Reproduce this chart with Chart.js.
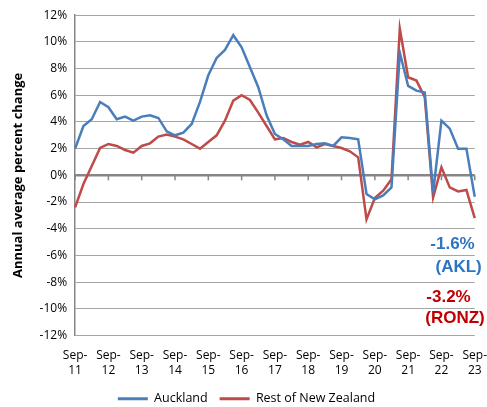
<!DOCTYPE html>
<html>
<head>
<meta charset="utf-8">
<script src="https://cdn.jsdelivr.net/npm/chart.js@4"></script>
<style>
  html, body { margin: 0; padding: 0; background: #fff; }
  #wrap { width: 487px; height: 407px; }
</style>
</head>
<body>
<div id="wrap"><canvas id="grafico"></canvas></div>
<script>
// trimestres Sep-11 .. Sep-23
const trimestres = [
  "Sep-11","Dec-11","Mar-12","Jun-12","Sep-12","Dec-12","Mar-13","Jun-13",
  "Sep-13","Dec-13","Mar-14","Jun-14","Sep-14","Dec-14","Mar-15","Jun-15",
  "Sep-15","Dec-15","Mar-16","Jun-16","Sep-16","Dec-16","Mar-17","Jun-17",
  "Sep-17","Dec-17","Mar-18","Jun-18","Sep-18","Dec-18","Mar-19","Jun-19",
  "Sep-19","Dec-19","Mar-20","Jun-20","Sep-20","Dec-20","Mar-21","Jun-21",
  "Sep-21","Dec-21","Mar-22","Jun-22","Sep-22","Dec-22","Mar-23","Jun-23",
  "Sep-23"
];

const auckland = [
  2.0, 3.7, 4.2, 5.5, 5.1, 4.2, 4.4, 4.1,
  4.4, 4.5, 4.3, 3.3, 3.0, 3.2, 3.85, 5.5,
  7.5, 8.8, 9.4, 10.5, 9.6, 8.1, 6.6, 4.5,
  3.1, 2.7, 2.2, 2.2, 2.2, 2.35, 2.4, 2.2,
  2.85, 2.8, 2.7, -1.4, -1.8, -1.5, -0.9, 9.2,
  6.7, 6.35, 6.2, -1.3, 4.1, 3.5, 2.0, 2.0,
  -1.6
];

const restoNZ = [
  -2.4, -0.65, 0.7, 2.05, 2.35, 2.2, 1.9, 1.7,
  2.2, 2.4, 2.9, 3.05, 2.9, 2.7, 2.35, 2.0,
  2.5, 3.0, 4.1, 5.6, 6.0, 5.65, 4.7, 3.7,
  2.7, 2.8, 2.5, 2.3, 2.5, 2.1, 2.35, 2.2,
  2.05, 1.8, 1.35, -3.3, -1.7, -1.15, -0.3, 11.0,
  7.35, 7.1, 5.85, -1.65, 0.6, -0.9, -1.2, -1.1,
  -3.2
];

const colorAKL = "#4a7ebb";
const colorRONZ = "#be4b48";

// Eje en cero con marcas de año y anotaciones finales
const ejeCero = {
  id: "ejeCero",
  beforeDatasetsDraw(chart) {
    const ctx = chart.ctx;
    const x = chart.scales.x, y = chart.scales.y;
    const y0 = y.getPixelForValue(0);
    ctx.save();
    ctx.strokeStyle = "#868686";
    ctx.lineWidth = 2.5;
    ctx.beginPath();
    ctx.moveTo(chart.chartArea.left, y0);
    ctx.lineTo(chart.chartArea.right, y0);
    ctx.stroke();
    ctx.lineWidth = 1.5;
    for (let i = 0; i < trimestres.length; i += 4) {
      const px = x.getPixelForValue(i);
      ctx.beginPath();
      ctx.moveTo(px, y0);
      ctx.lineTo(px, y0 + 5);
      ctx.stroke();
    }
    ctx.restore();
  },
  afterDraw(chart) {
    const ctx = chart.ctx;
    const r = chart.chartArea.right;
    ctx.save();
    ctx.font = "bold 17px 'Liberation Sans', Arial, sans-serif";
    ctx.textAlign = "right";
    ctx.textBaseline = "alphabetic";
    ctx.fillStyle = "#2e75c0";
    ctx.fillText("-1.6%", r, 249);
    ctx.fillText("(AKL)", r + 7, 272);
    ctx.fillStyle = "#c00000";
    ctx.fillText("-3.2%", r - 4, 302);
    ctx.fillText("(RONZ)", r + 10, 323);
    ctx.restore();
  }
};

const canvas = document.getElementById("grafico");
new Chart(canvas, {
  type: "line",
  data: {
    labels: trimestres,
    datasets: [
      {
        label: "Auckland",
        data: auckland,
        borderColor: colorAKL,
        backgroundColor: colorAKL,
        borderWidth: 2.5,
        pointRadius: 0,
        tension: 0
      },
      {
        label: "Rest of New Zealand",
        data: restoNZ,
        borderColor: colorRONZ,
        backgroundColor: colorRONZ,
        borderWidth: 2.5,
        pointRadius: 0,
        tension: 0
      }
    ]
  },
  options: {
    responsive: true,
    maintainAspectRatio: false,
    animation: false,
    layout: { padding: { left: 6, right: 0, top: 7, bottom: -8 } },
    plugins: {
      tooltip: { enabled: false },
      legend: {
        position: "bottom",
        labels: {
          color: "#000",
          font: { family: "'Open Sans', sans-serif", size: 12.5 },
          boxWidth: 30,
          boxHeight: 3,
          padding: 12,
          generateLabels(chart) {
            const items = Chart.defaults.plugins.legend.labels.generateLabels(chart);
            items.forEach(it => { it.lineWidth = 0; });
            return items;
          }
        }
      }
    },
    scales: {
      x: {
        offset: false,
        afterFit(scale) { scale.height = 45; },
        grid: {
          display: true,
          drawOnChartArea: false,
          drawTicks: true,
          tickLength: 13,
          color: "rgba(0,0,0,0)"
        },
        border: { display: false },
        ticks: {
          autoSkip: false,
          maxRotation: 0,
          padding: 0,
          color: "#000",
          font: { family: "'Open Sans', sans-serif", size: 12, lineHeight: 1.25 },
          callback(val, i) {
            if (i % 4 !== 0) return "";
            const t = trimestres[i].split("-");
            return [t[0] + "-", t[1]];
          }
        }
      },
      y: {
        min: -12,
        max: 12,
        ticks: {
          stepSize: 2,
          color: "#000",
          padding: 8,
          font: { family: "'Open Sans', sans-serif", size: 12 },
          callback: v => v + "%"
        },
        grid: { color: "#a6a6a6", lineWidth: 1, drawTicks: false },
        border: { color: "#868686", width: 1.5 },
        title: {
          display: true,
          text: "Annual average percent change",
          color: "#000",
          font: { family: "'Open Sans', sans-serif", size: 13, weight: "bold" },
          padding: { bottom: 6 }
        }
      }
    }
  },
  plugins: [ejeCero]
});
</script>
</body>
</html>
